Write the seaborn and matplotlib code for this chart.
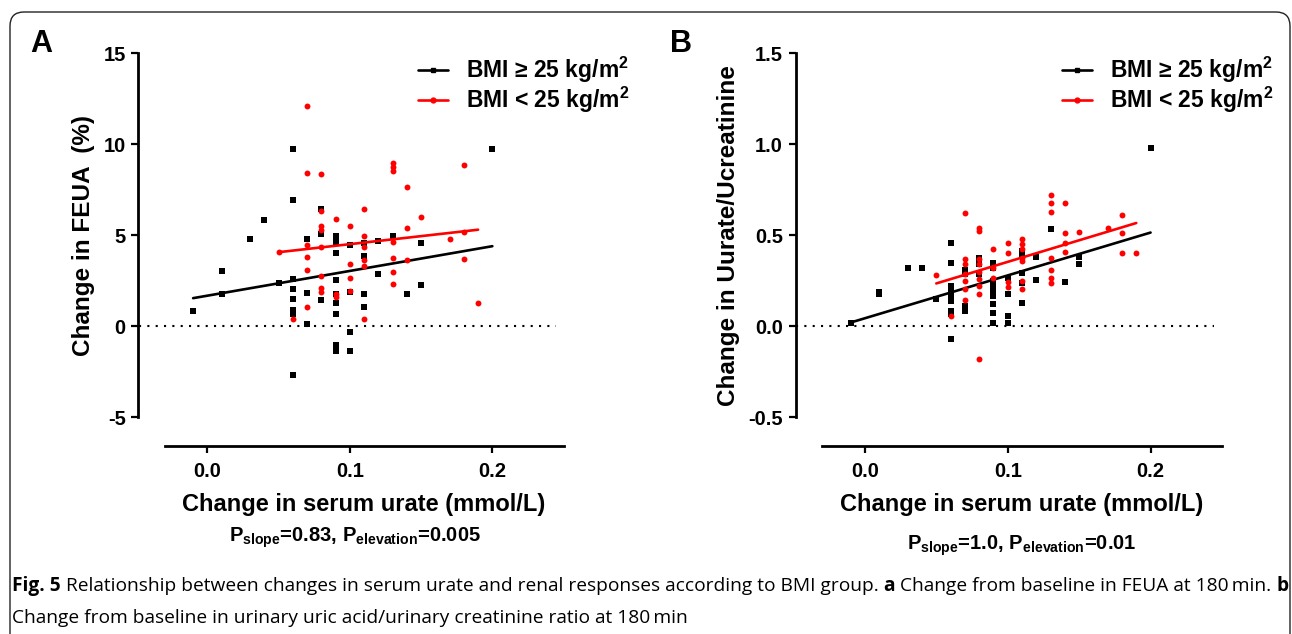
import numpy as np
import pandas as pd
import seaborn as sns
import matplotlib.pyplot as plt
from matplotlib.lines import Line2D
from matplotlib.patches import FancyBboxPatch

# ---- panel A: change in FEUA (%) vs change in serum urate (mmol/L) ----
feua_hi_x = [-0.01, 0.01, 0.01, 0.03, 0.04, 0.05,
             0.06, 0.06, 0.06, 0.06, 0.06, 0.06, 0.06, 0.06,
             0.07, 0.07, 0.07, 0.08, 0.08, 0.08,
             0.09, 0.09, 0.09, 0.09, 0.09, 0.09, 0.09, 0.09, 0.09,
             0.10, 0.10, 0.10, 0.10, 0.11, 0.11, 0.11, 0.11,
             0.12, 0.12, 0.13, 0.14, 0.15, 0.15, 0.20]
feua_hi_y = [0.85, 3.05, 1.8, 4.8, 5.85, 2.4,
             9.75, 6.95, 2.6, 2.05, 1.5, 0.9, 0.65, -2.7,
             4.8, 1.85, 0.15, 6.45, 5.05, 1.45,
             4.95, 4.65, 4.05, 2.55, 1.75, 1.3, 0.65, -1.05, -1.35,
             4.45, 1.9, -0.3, -1.35, 4.6, 3.85, 1.75, 1.05,
             4.7, 2.9, 4.95, 1.8, 4.6, 2.25, 9.75]

feua_lo_x = [0.05, 0.06,
             0.07, 0.07, 0.07, 0.07, 0.07, 0.07,
             0.08, 0.08, 0.08, 0.08, 0.08, 0.08, 0.08, 0.08,
             0.09, 0.09, 0.09, 0.10, 0.10, 0.10, 0.10,
             0.11, 0.11, 0.11, 0.11, 0.11, 0.11,
             0.13, 0.13, 0.13, 0.13, 0.13, 0.13, 0.13,
             0.14, 0.14, 0.14, 0.15, 0.17, 0.18, 0.18, 0.18, 0.19]
feua_lo_y = [4.1, 0.4,
             12.1, 8.4, 4.45, 3.8, 3.1, 1.05,
             8.35, 6.35, 5.5, 5.3, 4.35, 2.75, 2.1, 1.9,
             5.9, 1.8, 1.6, 5.5, 3.4, 2.65, 1.95,
             6.45, 4.95, 4.35, 3.65, 3.3, 0.4,
             8.95, 8.75, 8.55, 4.65, 3.75, 3.0, 2.35,
             7.65, 5.4, 3.65, 6.0, 4.8, 8.85, 5.2, 3.7, 1.3]

# ---- panel B: change in Uurate/Ucreatinine vs change in serum urate ----
ratio_hi_x = [-0.01, 0.01, 0.01, 0.03, 0.04, 0.05,
              0.06, 0.06, 0.06, 0.06, 0.06, 0.06, 0.06, 0.06, 0.06,
              0.07, 0.07, 0.07, 0.07, 0.08, 0.08, 0.08,
              0.09, 0.09, 0.09, 0.09, 0.09, 0.09, 0.09, 0.09, 0.09,
              0.10, 0.10, 0.10, 0.10, 0.11, 0.11, 0.11, 0.11, 0.11,
              0.12, 0.12, 0.13, 0.14, 0.15, 0.15, 0.20]
ratio_hi_y = [0.02, 0.19, 0.18, 0.32, 0.32, 0.15,
              0.46, 0.35, 0.22, 0.19, 0.165, 0.14, 0.085, 0.065, -0.07,
              0.31, 0.29, 0.11, 0.085, 0.375, 0.345, 0.29,
              0.35, 0.32, 0.25, 0.22, 0.19, 0.165, 0.125, 0.075, 0.02,
              0.265, 0.175, 0.055, 0.02, 0.415, 0.385, 0.295, 0.24, 0.13,
              0.38, 0.255, 0.535, 0.245, 0.38, 0.34, 0.98]

ratio_lo_x = [0.05, 0.06,
              0.07, 0.07, 0.07, 0.07, 0.07, 0.07, 0.07,
              0.08, 0.08, 0.08, 0.08, 0.08, 0.08, 0.08, 0.08, 0.08,
              0.09, 0.09, 0.09, 0.10, 0.10, 0.10, 0.10,
              0.11, 0.11, 0.11, 0.11, 0.11, 0.11, 0.11,
              0.13, 0.13, 0.13, 0.13, 0.13, 0.13, 0.13,
              0.14, 0.14, 0.14, 0.14, 0.15, 0.17, 0.18, 0.18, 0.18, 0.19]
ratio_lo_y = [0.28, 0.055,
              0.62, 0.37, 0.34, 0.29, 0.25, 0.205, 0.145,
              0.54, 0.525, 0.37, 0.34, 0.30, 0.26, 0.22, 0.18, -0.18,
              0.425, 0.32, 0.265, 0.46, 0.405, 0.245, 0.215,
              0.48, 0.45, 0.425, 0.375, 0.36, 0.25, 0.205,
              0.72, 0.675, 0.63, 0.375, 0.31, 0.265, 0.24,
              0.675, 0.51, 0.455, 0.41, 0.52, 0.54, 0.61, 0.515, 0.405, 0.405]

x_ticks = [0.0, 0.1, 0.2]
x_tick_labels = ["0.0", "0.1", "0.2"]
feua_ticks = [-5, 0, 5, 10, 15]
feua_tick_labels = ["-5", "0", "5", "10", "15"]
ratio_ticks = [-0.5, 0.0, 0.5, 1.0, 1.5]
ratio_tick_labels = ["-0.5", "0.0", "0.5", "1.0", "1.5"]

group_labels = ["BMI \u2265 25 kg/m$^{\\mathbf{2}}$", "BMI < 25 kg/m$^{\\mathbf{2}}$"]
group_colors = ["black", "red"]

sns.set_theme(style="ticks")
plt.rcParams["font.family"] = ["Liberation Sans", "DejaVu Sans"]
plt.rcParams["mathtext.fontset"] = "custom"
plt.rcParams["mathtext.rm"] = "Liberation Sans"
plt.rcParams["mathtext.bf"] = "Liberation Sans:bold"
plt.rcParams["mathtext.it"] = "Liberation Sans:italic"
for key in ["text.color", "axes.labelcolor", "xtick.color", "ytick.color", "axes.edgecolor"]:
    plt.rcParams[key] = "black"

W, H = 1292, 634
fig = plt.figure(figsize=(W / 100, H / 100), dpi=100)
fig.patch.set_facecolor("white")


def px_axes(left, top, width, height):
    return fig.add_axes([left / W, 1 - (top + height) / H, width / W, height / H])


def draw_panel(ax, hi_x, hi_y, lo_x, lo_y, ylim, yticks, ytick_labels, ylabel):
    df = pd.DataFrame({
        "x": hi_x + lo_x,
        "y": hi_y + lo_y,
        "group": ["hi"] * len(hi_x) + ["lo"] * len(lo_x),
    })
    hi = df[df["group"] == "hi"]
    lo = df[df["group"] == "lo"]
    sns.regplot(data=hi, x="x", y="y", ax=ax, ci=None, truncate=True,
                marker="s", color=group_colors[0],
                scatter_kws=dict(s=24, alpha=1, linewidths=0, zorder=3),
                line_kws=dict(lw=1.9, zorder=4))
    sns.regplot(data=lo, x="x", y="y", ax=ax, ci=None, truncate=True,
                marker="o", color=group_colors[1],
                scatter_kws=dict(s=18, alpha=1, linewidths=0, zorder=5),
                line_kws=dict(lw=1.9, zorder=6))
    ax.axhline(0, xmin=-0.064, xmax=0.98, color="black", lw=1.5,
               ls=(0, (1, 3)), clip_on=False, zorder=2)

    ax.set_xlim(-0.03, 0.25)
    ax.set_ylim(*ylim)
    ax.set_xticks(x_ticks, x_tick_labels)
    ax.set_yticks(yticks, ytick_labels)
    ax.set_xlabel("Change in serum urate (mmol/L)", fontsize=17, fontweight="bold", labelpad=8)
    ax.set_ylabel(ylabel, fontsize=17.5, fontweight="bold", labelpad=6)

    ax.set_facecolor("none")
    for side in ["top", "right"]:
        ax.spines[side].set_visible(False)
    ax.spines["left"].set_position(("outward", 19))
    ax.spines["bottom"].set_position(("outward", 20.5))
    for side in ["left", "bottom"]:
        ax.spines[side].set_linewidth(2.0)
        ax.spines[side].set_color("black")
    ax.tick_params(axis="both", direction="out", length=5, width=1.6,
                   labelsize=14.5, colors="black")
    ax.tick_params(axis="x", pad=7)
    ax.tick_params(axis="y", pad=4)
    for lbl in ax.get_xticklabels() + ax.get_yticklabels():
        lbl.set_fontweight("bold")

    handles = [
        Line2D([], [], color=group_colors[0], lw=1.9, marker="s", markersize=3.5),
        Line2D([], [], color=group_colors[1], lw=1.9, marker="o", markersize=3.5),
    ]
    return handles


ax_a = px_axes(164.6, 53.3, 399, 364)
h_a = draw_panel(ax_a, feua_hi_x, feua_hi_y, feua_lo_x, feua_lo_y,
                 (-5, 15), feua_ticks, feua_tick_labels, "Change in FEUA  (%)")
ax_b = px_axes(822, 53.3, 400, 364)
h_b = draw_panel(ax_b, ratio_hi_x, ratio_hi_y, ratio_lo_x, ratio_lo_y,
                 (-0.5, 1.5), ratio_ticks, ratio_tick_labels, "Change in Uurate/Ucreatinine")

for handles, left in [(h_a, 418), (h_b, 1062)]:
    fig.legend(handles, group_labels, loc="upper left",
               bbox_to_anchor=(left / W, 1 - 55 / H), bbox_transform=fig.transFigure,
               frameon=False, borderpad=0, borderaxespad=0,
               handlelength=1.3, handletextpad=0.8, labelspacing=0.0,
               prop=dict(size=16.5, weight="bold"))

# panel letters and p-values
fig.text(30 / W, 1 - 52 / H, "A", fontsize=22, fontweight="bold", va="baseline")
fig.text(670 / W, 1 - 52 / H, "B", fontsize=22, fontweight="bold", va="baseline")
fig.text(355 / W, 1 - 542 / H, "P$_{\\mathbf{slope}}$=0.83, P$_{\\mathbf{elevation}}$=0.005",
         fontsize=14.5, fontweight="bold", ha="center", va="baseline")
fig.text(1022 / W, 1 - 550 / H, "P$_{\\mathbf{slope}}$=1.0, P$_{\\mathbf{elevation}}$=0.01",
         fontsize=14.5, fontweight="bold", ha="center", va="baseline")

# caption, drawn as runs of bold / regular text
renderer = fig.canvas.get_renderer()
cap_font = ["Open Sans", "DejaVu Sans"]


def draw_runs(x_px, y_px, runs, size):
    x = x_px
    for txt, weight in runs:
        t = fig.text(x / W, 1 - y_px / H, txt, fontsize=size, fontweight=weight,
                     family=cap_font, va="baseline", ha="left")
        x += t.get_window_extent(renderer).width


cap_size = 13.8
draw_runs(12, 591, [("Fig. 5", "bold"),
                    (" Relationship between changes in serum urate and renal responses "
                     "according to BMI group. ", "normal"),
                    ("a", "bold"),
                    (" Change from baseline in FEUA at 180\u2009min. ", "normal"),
                    ("b", "bold")], cap_size)
draw_runs(12, 623, [("Change from baseline in urinary uric acid/urinary creatinine ratio at 180\u2009min",
                     "normal")], cap_size)

# rounded frame around the figure
frame = FancyBboxPatch((10, -30), 1280, 652, boxstyle="round,pad=0,rounding_size=14",
                       transform=None, facecolor="none", edgecolor="#222222", lw=1.0)
fig.add_artist(frame)

fig.savefig("out.png", dpi=100)
